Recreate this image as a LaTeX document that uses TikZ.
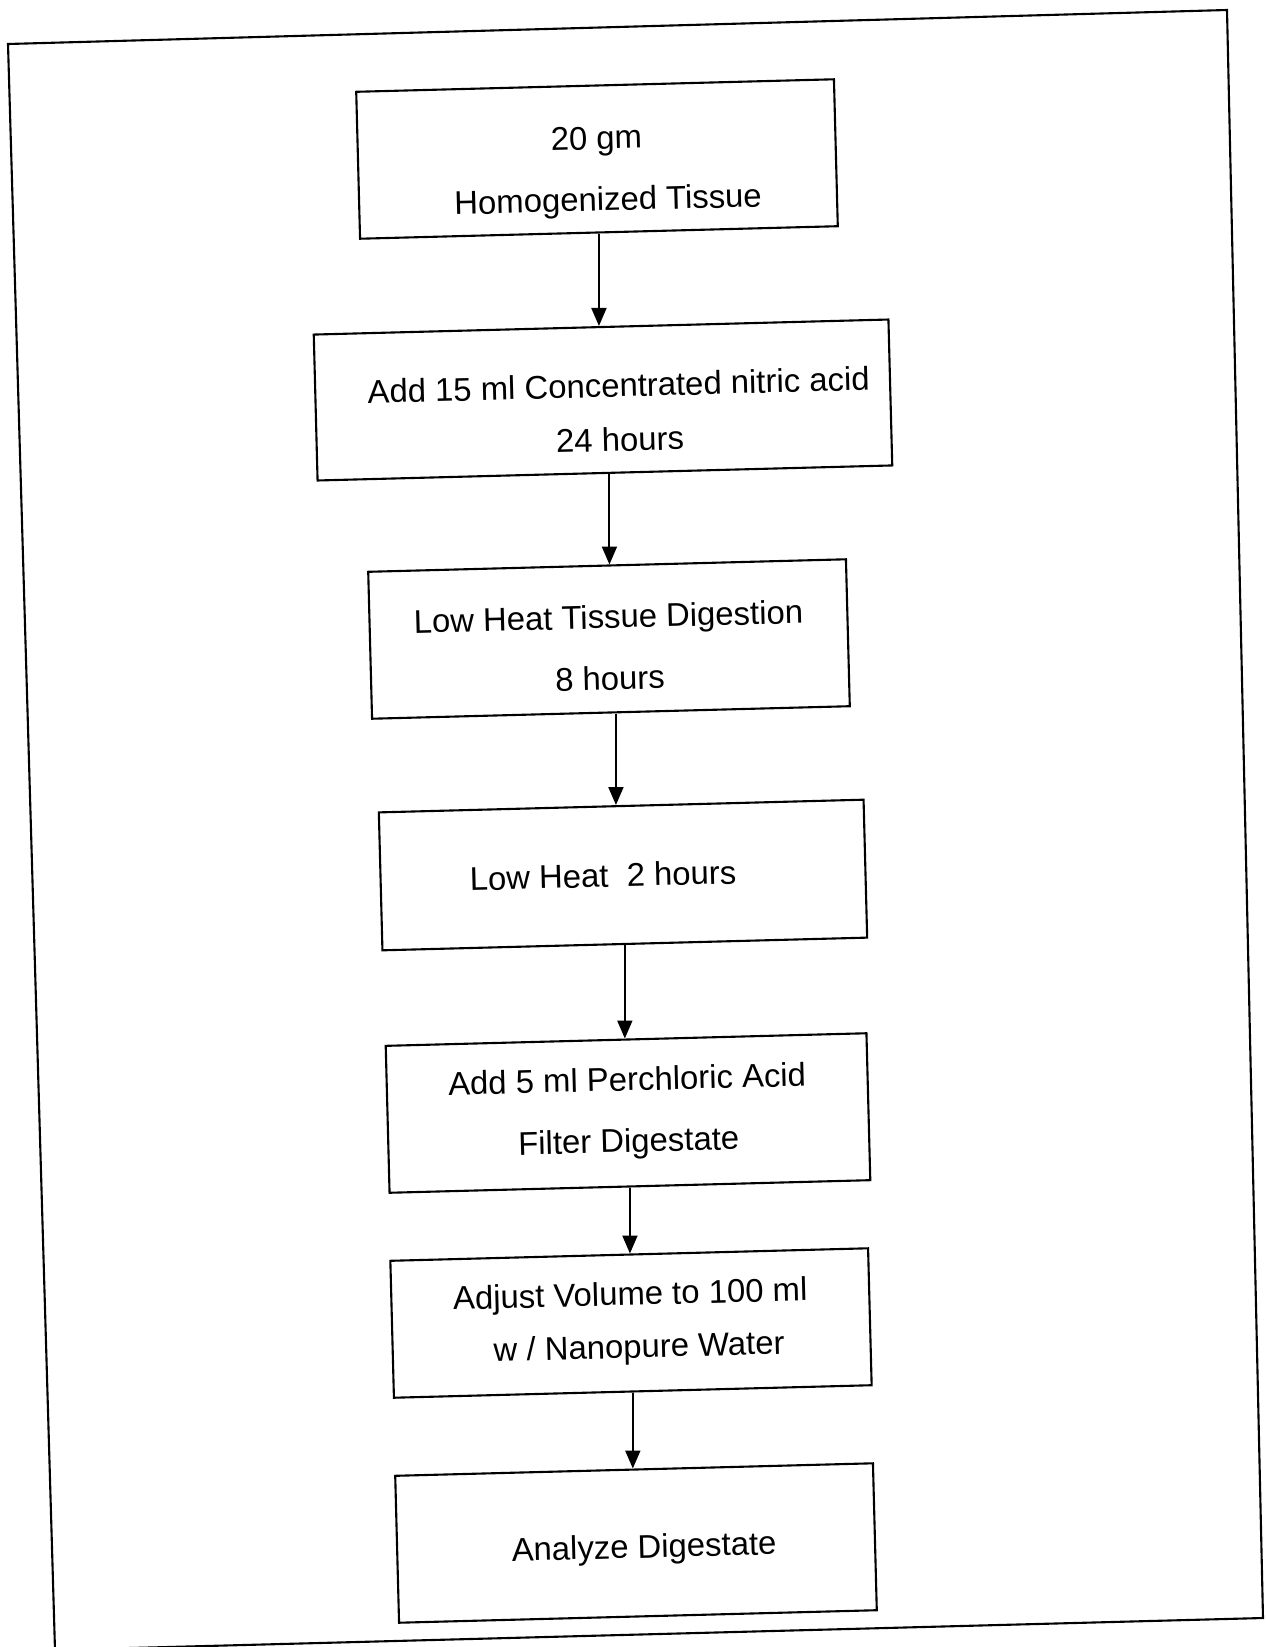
\documentclass[tikz,border=0pt]{standalone}
\usepackage{fontspec}
\setmainfont{Liberation Sans}
\usetikzlibrary{positioning,arrows.meta}

\tikzset{
  stepbox/.style={draw, line width=1.2pt, rotate=1.5, inner sep=0pt,
    minimum width=9.56cm, minimum height=2.94cm, align=center,
    font=\fontsize{18.7}{28}\selectfont},
  flow/.style={-{Triangle[width=0.3cm,length=0.36cm]}, line width=1.1pt}
}

\begin{document}
\begin{tikzpicture}[x=0.02cm, y=-0.02cm]
\path[fill=white, use as bounding box] (0,0) rectangle (1265,1647);
% scanned page frame
\draw[line width=1.2pt] (8,44) -- (1227,10) -- (1263,1618) -- (55,1650) -- cycle;

\node[stepbox] (hom) at (597,159)
  {\rule{0pt}{28pt}20 gm\\[7pt]\hspace*{0.4cm}Homogenized Tissue};
\node[stepbox, minimum width=11.5cm, minimum height=2.92cm] (nitric) at (603,400)
  {\rule{0pt}{28pt}\hspace*{0.64cm}Add 15 ml Concentrated nitric acid\\[3pt]\hspace*{0.64cm}24 hours};
\node[stepbox] (digest) at (609,639)
  {\rule{0pt}{23pt}Low Heat Tissue Digestion\\[7pt]8 hours};
\node[stepbox, minimum width=9.7cm, minimum height=2.76cm] (heat) at (623,875)
  {Low Heat\ \ 2 hours\hspace*{0.8cm}};
\node[stepbox, minimum width=9.62cm] (perc) at (628,1113)
  {Add 5 ml Perchloric Acid\\[7pt]Filter Digestate};
\node[stepbox, minimum height=2.74cm] (adjust) at (631,1323)
  {Adjust Volume to 100 ml\\[2pt]\hspace*{0.3cm}w / Nanopure Water};
\node[stepbox] (analyze) at (636,1543) {\rule{0pt}{21pt}\hspace*{0.32cm}Analyze Digestate};

\draw[flow] (hom.south) -- (hom.south |- nitric.north);
\draw[flow] ([xshift=0.09cm]nitric.south) -- ([xshift=0.09cm]nitric.south |- digest.north);
\draw[flow] ([xshift=0.1cm]digest.south) -- ([xshift=0.1cm]digest.south |- heat.north);
\draw[flow] (heat.south) -- (heat.south |- perc.north);
\draw[flow] (perc.south) -- (perc.south |- adjust.north);
\draw[flow] (adjust.south) -- (adjust.south |- analyze.north);
\end{tikzpicture}
\end{document}
